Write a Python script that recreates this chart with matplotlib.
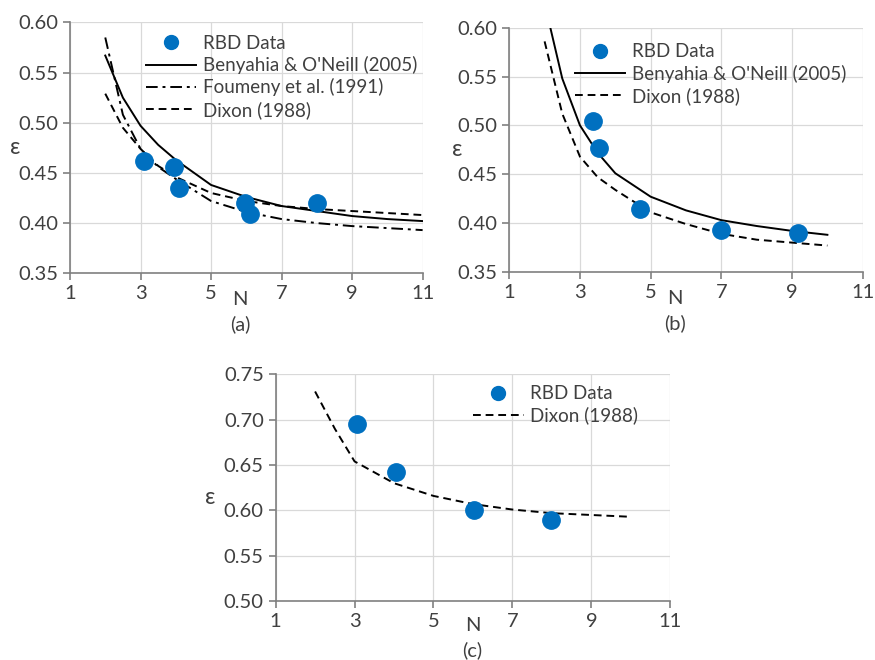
"""
Voidage vs. N for RBD data and correlations, three panels
"""
import matplotlib
matplotlib.use("Agg")
import matplotlib.pyplot as plt
from matplotlib.lines import Line2D

plt.rcParams['font.family'] = ['Lato', 'DejaVu Sans']

# panel (a)
a_rbd_n = [3.1, 3.95, 4.1, 5.95, 6.1, 8.0]
a_rbd_e = [0.462, 0.456, 0.435, 0.420, 0.409, 0.420]
a_curve_n = [2, 2.5, 3, 3.5, 4, 5, 6, 7, 8, 9, 10, 11]
a_benyahia = [0.567, 0.525, 0.497, 0.478, 0.463, 0.438, 0.426, 0.417, 0.412, 0.407, 0.404, 0.402]
a_foumeny = [0.585, 0.508, 0.474, 0.456, 0.444, 0.422, 0.411, 0.404, 0.400, 0.397, 0.395, 0.393]
a_dixon = [0.529, 0.495, 0.474, 0.457, 0.446, 0.430, 0.422, 0.417, 0.414, 0.412, 0.410, 0.408]

# panel (b)
b_rbd_n = [3.36, 3.55, 4.69, 6.98, 9.16]
b_rbd_e = [0.505, 0.477, 0.414, 0.393, 0.390]
b_curve_n = [2, 2.5, 3, 3.5, 4, 5, 6, 7, 8, 9, 10]
b_benyahia = [0.625, 0.548, 0.500, 0.472, 0.451, 0.427, 0.413, 0.403, 0.397, 0.392, 0.388]
b_dixon = [0.586, 0.512, 0.468, 0.447, 0.434, 0.411, 0.399, 0.389, 0.383, 0.380, 0.377]

# panel (c)
c_rbd_n = [3.05, 4.04, 6.02, 7.99]
c_rbd_e = [0.695, 0.642, 0.601, 0.589]
c_curve_n = [2, 2.5, 3, 4, 5, 6, 7, 8, 9, 10]
c_dixon = [0.731, 0.690, 0.654, 0.630, 0.616, 0.607, 0.601, 0.597, 0.595, 0.593]

blue = '#0070C0'
txt = '#404040'
fs = 14.5


def style_axes(ax, ylim, yticks):
    ax.set_xlim(1, 11)
    ax.set_ylim(*ylim)
    ax.set_xticks([1, 3, 5, 7, 9, 11])
    ax.set_yticks(yticks)
    ax.set_yticklabels([f'{v:.2f}' for v in yticks])
    ax.grid(True, color='#d9d9d9', linewidth=0.9)
    ax.set_axisbelow(True)
    for side in ('top', 'right'):
        ax.spines[side].set_visible(False)
    for side in ('left', 'bottom'):
        ax.spines[side].set_color('#808080')
        ax.spines[side].set_linewidth(1.2)
    ax.tick_params(colors='#808080', labelcolor=txt, labelsize=fs, length=5, width=1.2)


def add_legend(ax, handles, labels, x, y):
    ax.legend(handles, labels, loc='upper left', bbox_to_anchor=(x, y), frameon=False,
              fontsize=fs - 1, borderpad=0, borderaxespad=0, handlelength=2.7,
              handletextpad=0.35, labelspacing=0.23, labelcolor=txt)


def add_labels(ax, tag, ex, ey, nx, ny, tagy):
    ax.text(ex, ey, 'ε', transform=ax.transAxes, fontsize=fs + 2, color=txt, ha='center', va='center')
    ax.text(nx, ny, 'N', transform=ax.transAxes, fontsize=fs, color=txt, ha='center', va='center')
    ax.text(nx, tagy, tag, transform=ax.transAxes, fontsize=fs, color=txt, ha='center', va='center')


fig = plt.figure(figsize=(8.75, 6.6), dpi=100)

dot = dict(marker='o', linestyle='none', color=blue, markersize=12.5, zorder=3)
solid = dict(color='black', linewidth=1.4, linestyle='-')
dashdot = dict(color='black', linewidth=1.4, linestyle=(0, (6, 2.5, 1.5, 2.5)))
dashed = dict(color='black', linewidth=1.4, linestyle=(0, (4, 2.5)))
dot_key = Line2D([], [], marker='o', linestyle='none', color=blue, markersize=10)

# (a)
ax = fig.add_axes([0.080, 0.586, 0.403, 0.380])
style_axes(ax, (0.35, 0.60), [0.35, 0.40, 0.45, 0.50, 0.55, 0.60])
ax.plot(a_rbd_n, a_rbd_e, **dot)
ax.plot(a_curve_n, a_benyahia, **solid)
ax.plot(a_curve_n, a_foumeny, **dashdot)
ax.plot(a_curve_n, a_dixon, **dashed)
add_legend(ax, [dot_key, Line2D([], [], **solid), Line2D([], [], **dashdot), Line2D([], [], **dashed)],
           ['RBD Data', "Benyahia & O'Neill (2005)", 'Foumeny et al. (1991)', 'Dixon (1988)'],
           0.215, 0.951)
add_labels(ax, '(a)', -0.155, 0.5, 0.482, -0.105, -0.205)

# (b)
ax = fig.add_axes([0.582, 0.588, 0.404, 0.370])
style_axes(ax, (0.35, 0.60), [0.35, 0.40, 0.45, 0.50, 0.55, 0.60])
ax.plot(b_rbd_n, b_rbd_e, **dot)
ax.plot(b_curve_n, b_benyahia, **solid)
ax.plot(b_curve_n, b_dixon, **dashed)
add_legend(ax, [dot_key, Line2D([], [], **solid), Line2D([], [], **dashed)],
           ['RBD Data', "Benyahia & O'Neill (2005)", 'Dixon (1988)'],
           0.185, 0.936)
add_labels(ax, '(b)', -0.148, 0.5, 0.469, -0.11, -0.21)

# (c)
ax = fig.add_axes([0.315, 0.089, 0.451, 0.344])
style_axes(ax, (0.50, 0.75), [0.50, 0.55, 0.60, 0.65, 0.70, 0.75])
ax.plot(c_rbd_n, c_rbd_e, **dot)
ax.plot(c_curve_n, c_dixon, **dashed)
add_legend(ax, [dot_key, Line2D([], [], **dashed)], ['RBD Data', 'Dixon (1988)'], 0.50, 0.952)
add_labels(ax, '(c)', -0.165, 0.458, 0.499, -0.105, -0.215)

fig.savefig('out.png', dpi=100)
